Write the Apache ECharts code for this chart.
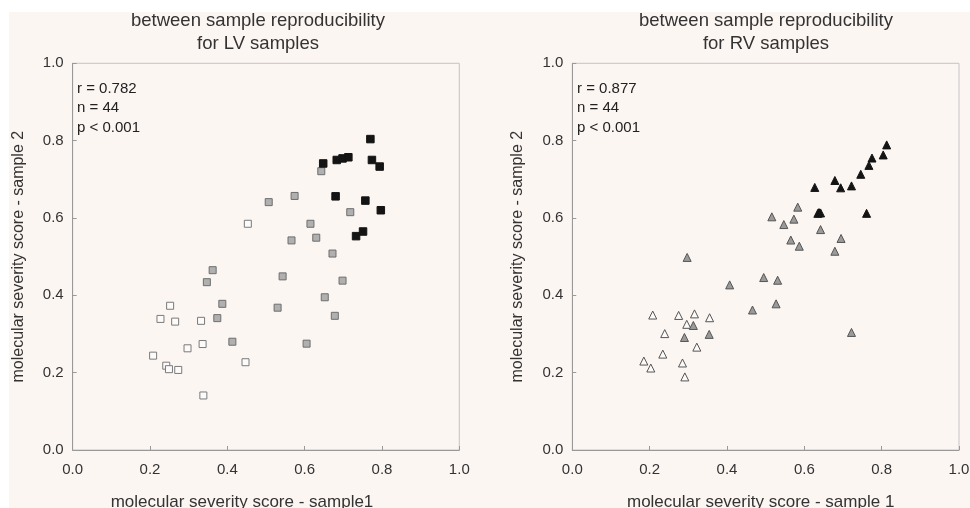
<!DOCTYPE html>
<html>
<head>
<meta charset="utf-8">
<script src="https://cdn.jsdelivr.net/npm/echarts@6/dist/echarts.min.js"></script>
<style>html,body{margin:0;padding:0;background:#fff}#c{width:970px;height:508px}</style>
</head>
<body>
<div id="c"></div>
<script>
// ---- data ----
const axisTicks = [0.0, 0.2, 0.4, 0.6, 0.8, 1.0];
const titles = ['between sample reproducibility\nfor LV samples', 'between sample reproducibility\nfor RV samples'];
const stats = ['r = 0.782\nn = 44\np < 0.001', 'r = 0.877\nn = 44\np < 0.001'];
const xNames = ['molecular severity score - sample1', 'molecular severity score - sample 1'];
const yName = 'molecular severity score - sample 2';

// LV: open / grey / black squares  [sample1, sample2]
const lvOpen = [[0.453,0.585],[0.252,0.373],[0.227,0.339],[0.265,0.332],[0.332,0.334],[0.336,0.274],[0.297,0.263],[0.208,0.244],[0.242,0.218],[0.249,0.209],[0.273,0.207],[0.447,0.227],[0.338,0.141]];
const lvGrey = [[0.643,0.721],[0.507,0.641],[0.574,0.657],[0.615,0.585],[0.566,0.542],[0.630,0.549],[0.718,0.615],[0.672,0.508],[0.362,0.465],[0.347,0.434],[0.543,0.449],[0.698,0.438],[0.387,0.378],[0.530,0.368],[0.652,0.395],[0.374,0.341],[0.678,0.347],[0.413,0.280],[0.605,0.275]];
const lvBlack = [[0.770,0.804],[0.648,0.741],[0.683,0.750],[0.698,0.754],[0.713,0.757],[0.774,0.750],[0.794,0.733],[0.680,0.656],[0.757,0.645],[0.797,0.620],[0.733,0.553],[0.751,0.565]];

// RV: open / grey / black triangles
const rvOpen = [[0.208,0.349],[0.275,0.348],[0.316,0.352],[0.355,0.342],[0.296,0.325],[0.239,0.301],[0.322,0.266],[0.234,0.248],[0.185,0.230],[0.203,0.212],[0.285,0.225],[0.291,0.189]];
const rvGrey = [[0.297,0.498],[0.407,0.427],[0.495,0.446],[0.531,0.439],[0.466,0.362],[0.527,0.378],[0.313,0.322],[0.290,0.291],[0.354,0.299],[0.516,0.603],[0.583,0.628],[0.547,0.583],[0.573,0.597],[0.565,0.543],[0.587,0.527],[0.642,0.570],[0.695,0.547],[0.679,0.514],[0.722,0.304]];
const rvBlack = [[0.813,0.789],[0.804,0.763],[0.775,0.755],[0.767,0.736],[0.746,0.713],[0.679,0.697],[0.694,0.678],[0.722,0.683],[0.627,0.679],[0.635,0.612],[0.642,0.613],[0.638,0.614],[0.761,0.612]];

// ---- chart ----
const FONT = "'Liberation Sans', Arial, sans-serif";
const chart = echarts.init(document.getElementById('c'), null, {renderer: 'canvas'});

function xAx(i, pad) {
  return {
    gridIndex: i, type: 'value', min: axisTicks[0], max: axisTicks[axisTicks.length - 1], interval: 0.2,
    name: xNames[i], nameLocation: 'middle', nameGap: 44,
    nameTextStyle: {fontFamily: FONT, fontSize: 17, color: '#333', padding: pad},
    axisLine: {show: true, onZero: false, lineStyle: {color: '#999', width: 1}},
    axisTick: {show: true, inside: true, length: 4, lineStyle: {color: '#999'}},
    axisLabel: {margin: 12, fontFamily: FONT, fontSize: 15, color: '#333', formatter: v => v.toFixed(1)},
    splitLine: {show: false}
  };
}
function yAx(i, gap) {
  return {
    gridIndex: i, type: 'value', min: axisTicks[0], max: axisTicks[axisTicks.length - 1], interval: 0.2,
    name: yName, nameLocation: 'middle', nameGap: gap, nameRotate: 90,
    nameTextStyle: {fontFamily: FONT, fontSize: 16, color: '#333'},
    axisLine: {show: true, onZero: false, lineStyle: {color: '#999', width: 1}},
    axisTick: {show: true, inside: true, length: 4, lineStyle: {color: '#999'}},
    axisLabel: {margin: 9, fontFamily: FONT, fontSize: 15, color: '#333', formatter: v => v.toFixed(1)},
    splitLine: {show: false}
  };
}
function sc(i, data, symbol, size, fill, border) {
  return {
    type: 'scatter', xAxisIndex: i, yAxisIndex: i, data: data, symbol: symbol, symbolSize: size,
    itemStyle: {color: fill, borderColor: border, borderWidth: 1, opacity: 1},
    emphasis: {disabled: true}, animation: false
  };
}

chart.setOption({
  backgroundColor: '#ffffff',
  animation: false,
  graphic: [{type: 'rect', z: -10, left: 9, top: 12, shape: {width: 961, height: 496}, style: {fill: '#fcf6f3'}}],
  title: [
    {text: titles[0], left: 258, top: 9, padding: 0, textAlign: 'center', textStyle: {fontFamily: FONT, fontSize: 18.5, fontWeight: 'normal', color: '#333', lineHeight: 23}},
    {text: titles[1], left: 766, top: 9, padding: 0, textAlign: 'center', textStyle: {fontFamily: FONT, fontSize: 18.5, fontWeight: 'normal', color: '#333', lineHeight: 23}},
    {text: stats[0], left: 77, top: 79, padding: 0, textStyle: {fontFamily: FONT, fontSize: 15, fontWeight: 'normal', color: '#222', lineHeight: 19.5}},
    {text: stats[1], left: 577, top: 79, padding: 0, textStyle: {fontFamily: FONT, fontSize: 15, fontWeight: 'normal', color: '#222', lineHeight: 19.5}}
  ],
  grid: [
    {left: 72.7, top: 63.3, width: 386.6, height: 386.7, outerBoundsMode: 'none', containLabel: false, show: true, borderColor: '#c4c4c4', borderWidth: 1, backgroundColor: 'transparent'},
    {left: 572.3, top: 63.3, width: 386.7, height: 386.7, outerBoundsMode: 'none', containLabel: false, show: true, borderColor: '#c4c4c4', borderWidth: 1, backgroundColor: 'transparent'}
  ],
  xAxis: [xAx(0, [0, 48, 0, 0]), xAx(1, [0, 10, 0, 0])],
  yAxis: [yAx(0, 46), yAx(1, 47)],
  series: [
    sc(0, lvOpen, 'rect', 7, '#fdfbfa', '#7a7a7a'),
    sc(0, lvGrey, 'rect', 7, '#b0b0b0', '#6e6e6e'),
    sc(0, lvBlack, 'rect', 7.5, '#141414', '#141414'),
    sc(1, rvOpen, 'triangle', 8, '#fdfbfa', '#555555'),
    sc(1, rvGrey, 'triangle', 8, '#9a9a9a', '#555555'),
    sc(1, rvBlack, 'triangle', 8, '#141414', '#141414')
  ]
});
</script>
</body>
</html>
